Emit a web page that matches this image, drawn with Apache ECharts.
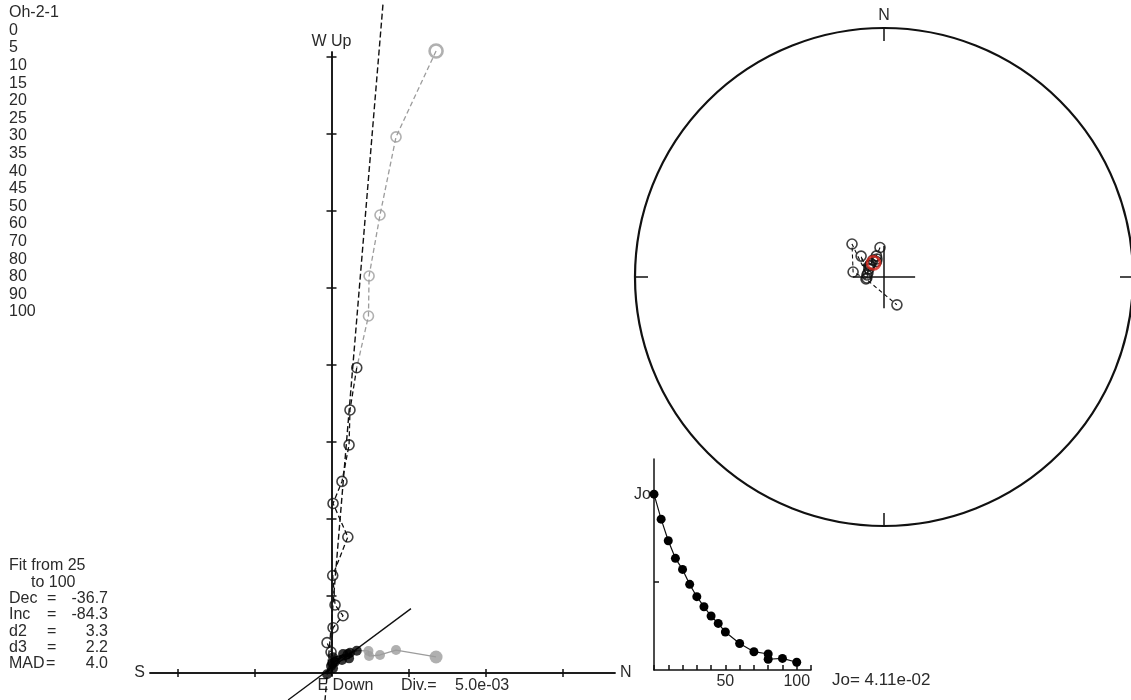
<!DOCTYPE html>
<html>
<head>
<meta charset="utf-8">
<script src="https://cdn.jsdelivr.net/npm/echarts@6/dist/echarts.min.js"></script>
<style>
  html, body { margin: 0; padding: 0; background: #ffffff; }
  #chart { width: 1131px; height: 700px; }
</style>
</head>
<body>
<div id="chart"></div>
<script>
// ---- Specimen Oh-2-1: AF demagnetisation steps ----
const sampleName = 'Oh-2-1';
const steps = ['0', '5', '10', '15', '20', '25', '30', '35', '40', '45', '50', '60', '70', '80', '80', '90', '100'];
const stepValues = [0, 5, 10, 15, 20, 25, 30, 35, 40, 45, 50, 60, 70, 80, 80, 90, 100];

// Orthogonal components (x 1e-3): North, West (horizontal projection), Up (vertical projection)
const north = [6.79, 4.19, 3.15, 2.44, 2.40, 1.64, 1.20, 1.14, 0.68, 0.10, 1.06, 0.08, 0.23, 0.75, 0.10, -0.03, -0.29];
const west  = [1.04, 1.49, 1.17, 1.10, 1.43, 1.45, 1.32, 0.95, 0.84, 1.02, 1.23, 0.63, 0.73, 1.23, 0.31, 0.45, -0.08];
const up    = [40.39, 34.81, 29.74, 25.78, 23.18, 19.82, 17.08, 14.81, 12.44, 11.01, 8.83, 6.33, 4.42, 3.72, 2.94, 1.36, 1.97];

// PCA fit from step 25 to 100
const fitStartIndex = 5;
const fitHorizontal = [[-2.82, -1.75], [5.16, 4.18]];   // N, W
const fitVertical = [[3.34, 43.4], [-0.42, -1.75]];      // N, Up
const fitRows = [['Dec', '-36.7'], ['Inc', '-84.3'], ['d2', '3.3'], ['d3', '2.2'], ['MAD', '4.0']];
const fitDec = -36.7;
const fitInc = -84.3;

// Directions on the equal-area net
const dec = [-7.7, -19.7, -21.3, -25.8, -32.9, -43.9, -52.8, -49.4, -61.9, -93.4, -47.6, -76.0, -83.3, -44.1, -80.8, -96.3, 155.1];
const inc = [-80.3, -82.7, -83.7, -84.4, -83.4, -83.9, -84.0, -84.0, -84.4, -84.4, -79.9, -84.6, -84.4, -75.0, -79.8, -84.1, -80.0];

// Intensity decay, J / Jo
const jRatio = [1.0, 0.858, 0.735, 0.635, 0.572, 0.487, 0.417, 0.360, 0.307, 0.265, 0.216, 0.151, 0.104, 0.091, 0.061, 0.066, 0.044];
const joText = '4.11e-02';
const divText = '5.0e-03';

// Axis ticks
const zijTicksX = [-10, -5, 5, 10, 15];
const zijTicksY = [5, 10, 15, 20, 25, 30, 35, 40];
const decayTickLabels = [50, 100];

// ---- drawing ----
const FONT = '"Liberation Sans", Arial, Helvetica, sans-serif';
const INK = '#111111';
const TEXT = '#2a2a2a';
const GRAY = '#9c9c9c';
const NONE = 'rgba(0,0,0,0)';
const crossArm = 0.125;

const idx = steps.map((_, i) => i);
const preFit = idx.filter(i => i < fitStartIndex);
const inFit = idx.filter(i => i >= fitStartIndex);
const toFirstFit = idx.filter(i => i <= fitStartIndex);
const vertPt = i => [north[i], up[i]];
const horPt = i => [north[i], west[i]];
const eqArea = incl => Math.SQRT2 * Math.sin((90 - Math.abs(incl)) / 2 * Math.PI / 180);
const netPt = (d, incl) => [eqArea(incl), (d + 360) % 360];

const zij = { xAxisIndex: 0, yAxisIndex: 0 };
const txt = (extra) => Object.assign({ fontFamily: FONT, fontSize: 16, fill: TEXT }, extra);

const zAxisX = (pos, name, loc, tickLen) => ({
  type: 'value', gridIndex: 0, position: pos, min: -11.786, max: 18.409,
  name: name, nameLocation: loc, nameGap: 5,
  nameTextStyle: { fontFamily: FONT, fontSize: 16, color: TEXT },
  axisLine: { onZero: true, lineStyle: { color: INK, width: 1.5 } },
  axisTick: { show: true, customValues: zijTicksX, length: tickLen, lineStyle: { color: INK, width: 1.5 } },
  axisLabel: { show: false }, splitLine: { show: false }
});
const zAxisY = (pos, name, loc, extraName) => ({
  type: 'value', gridIndex: 0, position: pos, min: -0.195, max: 40.324,
  name: name, nameLocation: loc, nameGap: 2,
  nameTextStyle: Object.assign({ fontFamily: FONT, fontSize: 16, color: TEXT }, extraName || {}),
  axisLine: { onZero: true, lineStyle: { color: INK, width: 1.5 } },
  axisTick: { show: true, customValues: zijTicksY, length: 5, lineStyle: { color: INK, width: 1.5 } },
  axisLabel: { show: false }, splitLine: { show: false }
});

const graphics = [
  { type: 'text', left: 9, top: 4, style: txt({ text: [sampleName].concat(steps).join('\n'), lineHeight: 17.6 }) },
  { type: 'text', left: 9, top: 558, style: txt({ text: 'Fit from 25' }) },
  { type: 'text', left: 31, top: 574.3, style: txt({ text: 'to 100' }) },
  { type: 'text', left: 401, top: 678, style: txt({ text: 'Div.=' }) },
  { type: 'text', left: 455, top: 678, style: txt({ text: divText }) },
  { type: 'text', left: 832, top: 672, style: txt({ text: 'Jo= ' + joText, fontSize: 17 }) }
];
fitRows.forEach((row, k) => {
  const top = 590.6 + k * 16.3;
  graphics.push({ type: 'text', left: 9, top: top, style: txt({ text: row[0] }) });
  graphics.push({ type: 'text', left: row[0] === 'MAD' ? 46 : 47, top: top, style: txt({ text: '=' }) });
  graphics.push({ type: 'text', right: 1131 - 108, top: top, style: txt({ text: row[1], align: 'right' }) });
});

const option = {
  animation: false,
  backgroundColor: '#ffffff',
  textStyle: { fontFamily: FONT },
  grid: [
    { left: 150, top: 52, width: 465, height: 624 },
    { left: 654, top: 459, width: 157, height: 211 }
  ],
  xAxis: [
    zAxisX('bottom', 'N', 'end', 4),
    zAxisX('top', 'S', 'start', 4),
    {
      type: 'value', gridIndex: 1, min: 0, max: 110, interval: 10,
      axisLine: { onZero: true, lineStyle: { color: INK, width: 1.5 } },
      axisTick: { inside: true, length: 5, lineStyle: { color: INK, width: 1.5 } },
      axisLabel: {
        formatter: v => (decayTickLabels.indexOf(v) >= 0 ? String(v) : ''),
        fontFamily: FONT, fontSize: 16, color: TEXT, margin: 4
      },
      splitLine: { show: false }
    }
  ],
  yAxis: [
    zAxisY('left', 'W Up', 'end'),
    zAxisY('right', 'E Down', 'start', { padding: [0, 0, 0, 28] }),
    {
      type: 'value', gridIndex: 1, min: 0, max: 1.2,
      axisLine: { onZero: true, lineStyle: { color: INK, width: 1.5 } },
      axisTick: { inside: true, length: 5, customValues: [0.5], lineStyle: { color: INK, width: 1.5 } },
      axisLabel: { customValues: [1], formatter: () => 'Jo', fontFamily: FONT, fontSize: 16, color: TEXT, margin: 3 },
      splitLine: { show: false }
    }
  ],
  polar: { center: [884, 277], radius: 249 },
  angleAxis: {
    type: 'value', min: 0, max: 360, interval: 90, startAngle: 90, clockwise: true,
    axisLine: { lineStyle: { color: INK, width: 2.2 } },
    axisTick: { inside: true, length: 13, lineStyle: { color: INK, width: 1.5 } },
    axisLabel: { formatter: v => (v === 0 ? 'N' : ''), fontFamily: FONT, fontSize: 16, color: TEXT, margin: 4 },
    splitLine: { show: false }
  },
  radiusAxis: { type: 'value', min: 0, max: 1, show: false, axisLine: { show: false }, axisTick: { show: false }, axisLabel: { show: false }, splitLine: { show: false } },
  graphic: graphics,
  series: [
    // Zijderveld: connecting paths
    { type: 'line', ...zij, data: toFirstFit.map(vertPt), symbol: 'none', silent: true, clip: false,
      lineStyle: { color: GRAY, type: [5, 3], width: 1.3 }, z: 2 },
    { type: 'line', ...zij, data: inFit.map(vertPt), symbol: 'none', silent: true,
      lineStyle: { color: INK, type: [5, 3], width: 1.3 }, z: 2 },
    { type: 'line', ...zij, data: toFirstFit.map(horPt), symbol: 'none', silent: true,
      lineStyle: { color: GRAY, width: 1.3 }, z: 2 },
    { type: 'line', ...zij, data: inFit.map(horPt), symbol: 'none', silent: true,
      lineStyle: { color: INK, width: 1.3 }, z: 2 },
    // Zijderveld: fitted lines
    { type: 'line', ...zij, data: fitVertical, symbol: 'none', clip: false, silent: true,
      lineStyle: { color: INK, type: [6, 3], width: 1.4 }, z: 3 },
    { type: 'line', ...zij, data: fitHorizontal, symbol: 'none', clip: false, silent: true,
      lineStyle: { color: INK, width: 1.4 }, z: 3 },
    // Zijderveld: horizontal projection (filled)
    { type: 'scatter', ...zij, silent: true, clip: false, z: 4,
      data: preFit.map(i => ({ value: horPt(i), symbolSize: i === 0 ? 13 : 10 })),
      itemStyle: { color: GRAY } },
    { type: 'scatter', ...zij, silent: true, clip: false, z: 4, data: inFit.map(horPt), symbolSize: 10,
      itemStyle: { color: '#000000' } },
    // Zijderveld: vertical projection (open)
    { type: 'scatter', ...zij, silent: true, clip: false, z: 4,
      data: preFit.map(i => ({ value: vertPt(i), symbolSize: i === 0 ? 13 : 10,
        itemStyle: { borderWidth: i === 0 ? 2.6 : 1.6 } })),
      itemStyle: { color: NONE, borderColor: GRAY, borderWidth: 1.6 } },
    { type: 'scatter', ...zij, silent: true, clip: false, z: 4, data: inFit.map(vertPt), symbolSize: 10,
      itemStyle: { color: NONE, borderColor: INK, borderWidth: 1.6 } },

    // Equal-area net
    { type: 'line', coordinateSystem: 'polar', polarIndex: 0, silent: true, symbol: 'none',
      data: [[crossArm, 0], [crossArm, 180]], lineStyle: { color: INK, width: 1.5 }, z: 2 },
    { type: 'line', coordinateSystem: 'polar', polarIndex: 0, silent: true, symbol: 'none',
      data: [[crossArm, 90], [crossArm, 270]], lineStyle: { color: INK, width: 1.5 }, z: 2 },
    { type: 'line', coordinateSystem: 'polar', polarIndex: 0, silent: true, symbol: 'none',
      data: idx.map(i => netPt(dec[i], inc[i])), lineStyle: { color: INK, type: [4, 3], width: 1.1 }, z: 3 },
    { type: 'scatter', coordinateSystem: 'polar', polarIndex: 0, silent: true, symbolSize: 10,
      data: idx.map(i => netPt(dec[i], inc[i])),
      itemStyle: { color: NONE, borderColor: INK, borderWidth: 1.6 }, z: 4 },
    { type: 'scatter', coordinateSystem: 'polar', polarIndex: 0, silent: true, symbolSize: 13,
      data: [netPt(fitDec, fitInc)],
      itemStyle: { color: NONE, borderColor: '#d8261b', borderWidth: 2.8 }, z: 5 },

    // Intensity decay
    { type: 'line', xAxisIndex: 2, yAxisIndex: 2, silent: true, clip: false,
      data: stepValues.map((s, i) => [s, jRatio[i]]),
      symbol: 'circle', symbolSize: 9,
      itemStyle: { color: '#000000' }, lineStyle: { color: INK, width: 1.2 } }
  ]
};

const chart = echarts.init(document.getElementById('chart'), null, { renderer: 'canvas' });
chart.setOption(option);
</script>
</body>
</html>
